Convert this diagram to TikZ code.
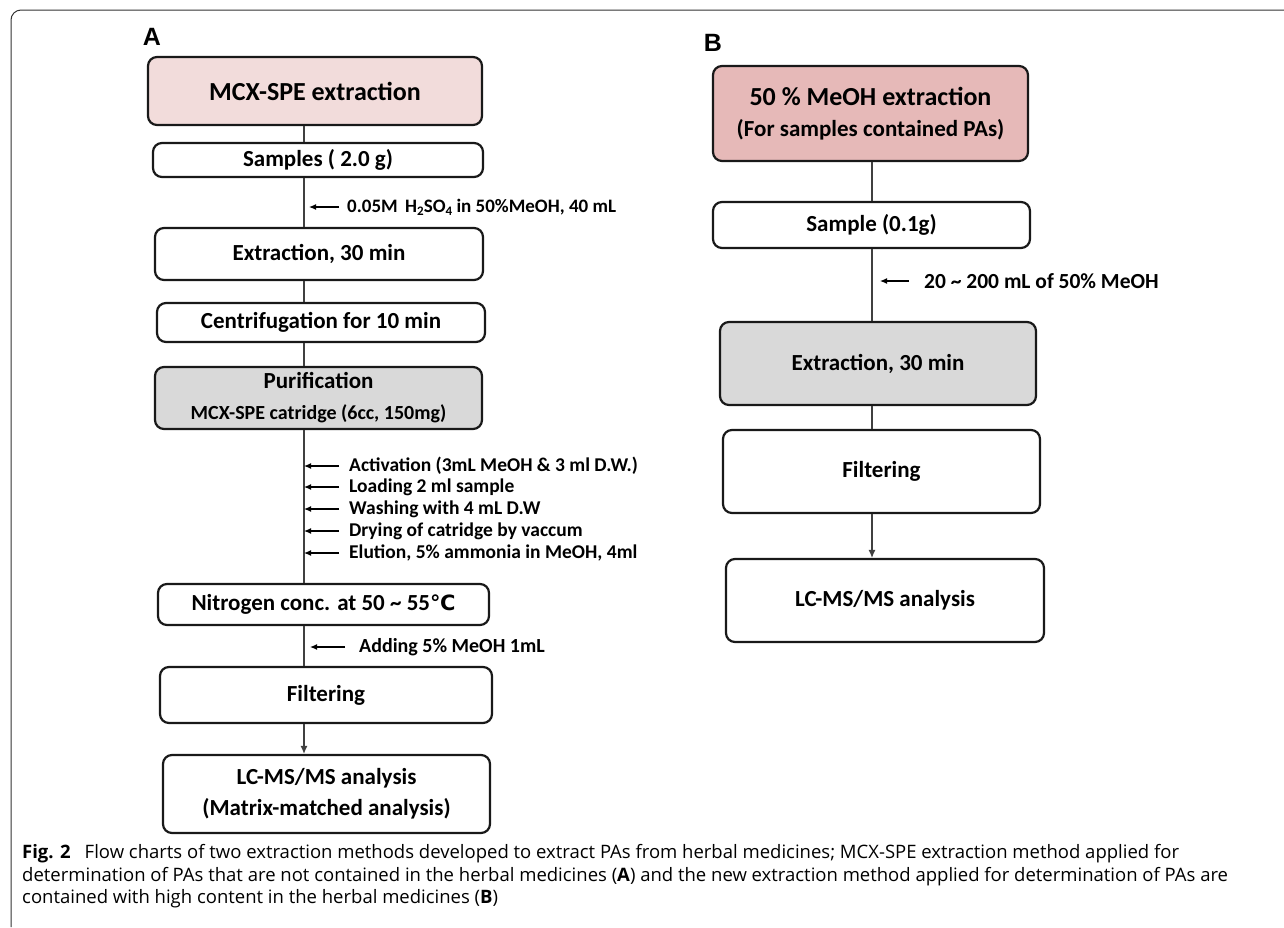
\documentclass[tikz,border=0pt]{standalone}
\usepackage{fontspec}
\setmainfont{Carlito}
\newfontfamily\captionFont{Open Sans}
\newfontfamily\letterFont{Liberation Sans}
\newfontfamily\symbolFont{DejaVu Sans}
\usepackage{tikz}
\usetikzlibrary{arrows.meta}
\definecolor{pinkLight}{HTML}{F2DCDB}
\definecolor{pinkDark}{HTML}{E6B9B8}
\definecolor{greyBox}{HTML}{D9D9D9}
\definecolor{lineGrey}{HTML}{404040}
\newcommand{\titleFont}{\fontsize{26}{30}\selectfont\bfseries}
\newcommand{\boxFont}{\fontsize{23}{31}\selectfont\bfseries}
\newcommand{\stepFont}{\fontsize{19.5}{22}\selectfont\bfseries}
\newcommand{\capSize}{\fontsize{18.5}{22.5}\selectfont}
\newcommand{\lowIndex}[1]{\raisebox{-3pt}{\fontsize{13}{13}\selectfont #1}}
\newcommand{\degC}{{\symbolFont\fontsize{21}{22}\selectfont ℃}}

\begin{document}
\begin{tikzpicture}[x=1pt, y=-1pt,
    stepbox/.style={draw=black!90, line width=2.2pt, rounded corners=9pt, inner sep=0pt, align=center, font=\boxFont},
    link/.style={draw=lineGrey, line width=1.2pt},
    feed/.style={-{Latex[length=7pt,width=6pt]}, line width=1.2pt, draw=black},
    note/.style={anchor=west, inner sep=0pt, font=\stepFont},
    tip/.style={-{Latex[length=8pt,width=7pt]}}]
\useasboundingbox (0,0) rectangle (1284,927);
\draw[line width=1pt, black!80, rounded corners=10pt] (1284,10) -| (11,927);
\coordinate (spineA) at (304,0);
\coordinate (spineB) at (872,0);

% panel A
\node[font=\letterFont\fontsize{25}{25}\selectfont\bfseries] (letterA) at (152,37) {A};
\node[stepbox, fill=pinkLight, minimum width=334, minimum height=68, font=\titleFont] (mcx) at (315,91) {MCX-SPE extraction};
\node[stepbox, minimum width=330, minimum height=34] (samplesA) at (318,160) {Samples ( 2.0 g)};
\node[stepbox, minimum width=328, minimum height=52] (extrA) at (319,254) {Extraction, 30 min};
\node[stepbox, minimum width=328, minimum height=39] (centA) at (321,322.5) {Centrifugation for 10 min};
\node[stepbox, fill=greyBox, minimum width=327, minimum height=62] (purA) at (318.5,398) {Purification\\{\fontsize{20}{31}\selectfont MCX-SPE catridge (6cc, 150mg)}};
\node[stepbox, minimum width=331, minimum height=41] (nitroA) at (323.5,604.5) {Nitrogen conc. at 50 \textasciitilde{} 55\degC};
\node[stepbox, minimum width=332, minimum height=56] (filtA) at (326,695) {Filtering};
\node[stepbox, minimum width=327, minimum height=78] (lcmsA) at (326.5,794) {LC-MS/MS analysis\\(Matrix-matched analysis)};

\draw[link] (mcx.south -| spineA) -- (samplesA.north -| spineA);
\draw[link] (samplesA.south -| spineA) -- (extrA.north -| spineA);
\draw[link] (extrA.south -| spineA) -- (centA.north -| spineA);
\draw[link] (centA.south -| spineA) -- (purA.north -| spineA);
\draw[link] (purA.south -| spineA) -- (nitroA.north -| spineA);
\draw[link] (nitroA.south -| spineA) -- (filtA.north -| spineA);
\draw[link, tip] (filtA.south -| spineA) -- (lcmsA.north -| spineA);

\node[note, font=\fontsize{19}{22}\selectfont\bfseries] (sulfA) at (347,207) {0.05M\, H\lowIndex{2}SO\lowIndex{4} in 50\%MeOH, 40 mL};
\draw[feed] ([xshift=-8pt]sulfA.west) -- ([xshift=-38pt]sulfA.west);
\node[note] (actA) at (349,466) {Activation (3mL MeOH \& 3 ml D.W.)};
\node[note] (loadA) at (349,487) {Loading 2 ml sample};
\node[note] (washA) at (349,509) {Washing with 4 mL D.W};
\node[note] (dryA) at (349,531) {Drying of catridge by vaccum};
\node[note] (eluA) at (349,553) {Elution, 5\% ammonia in MeOH, 4ml};
\foreach \n in {actA,loadA,washA,dryA,eluA}
  \draw[feed] ([xshift=-10pt]\n.west) -- (\n.west -| spineA);
\node[note, font=\fontsize{20}{22}\selectfont\bfseries] (addA) at (359,647) {Adding 5\% MeOH 1mL};
\draw[feed] ([xshift=-14pt]addA.west) -- ([xshift=-49pt]addA.west);

% panel B
\node[font=\letterFont\fontsize{25}{25}\selectfont\bfseries] (letterB) at (713,43) {B};
\node[stepbox, fill=pinkDark, minimum width=315, minimum height=95] (meohB) at (870.5,113.5) {{\fontsize{26}{29}\selectfont 50 \% MeOH extraction}\\(For samples contained PAs)};
\node[stepbox, minimum width=317, minimum height=46] (sampleB) at (871.5,225) {Sample (0.1g)};
\node[stepbox, fill=greyBox, minimum width=316, minimum height=83] (extrB) at (878,363.5) {Extraction, 30 min};
\node[stepbox, minimum width=317, minimum height=83] (filtB) at (881.5,471.5) {Filtering};
\node[stepbox, minimum width=318, minimum height=83] (lcmsB) at (885,600.5) {LC-MS/MS analysis};

\draw[link] (meohB.south -| spineB) -- (sampleB.north -| spineB);
\draw[link] (sampleB.south -| spineB) -- (extrB.north -| spineB);
\draw[link] (extrB.south -| spineB) -- (filtB.north -| spineB);
\draw[link, tip] (filtB.south -| spineB) -- (lcmsB.north -| spineB);

\node[note, font=\fontsize{21.5}{22}\selectfont\bfseries] (solvB) at (924,281) {20 \textasciitilde{} 200 mL of 50\% MeOH};
\draw[feed] ([xshift=-15pt]solvB.west) -- ([xshift=-44pt]solvB.west);

% caption
\node[anchor=base west, inner sep=0pt, font=\captionFont\capSize] (capOne) at (22,858) {\textbf{Fig. 2}\hspace{0.5em} Flow charts of two extraction methods developed to extract PAs from herbal medicines; MCX-SPE extraction method applied for};
\node[anchor=base west, inner sep=0pt, font=\captionFont\capSize] (capTwo) at (22,881) {determination of PAs that are not contained in the herbal medicines (\textbf{A}) and the new extraction method applied for determination of PAs are};
\node[anchor=base west, inner sep=0pt, font=\captionFont\capSize] (capThree) at (22,903) {contained with high content in the herbal medicines (\textbf{B})};
\end{tikzpicture}
\end{document}
